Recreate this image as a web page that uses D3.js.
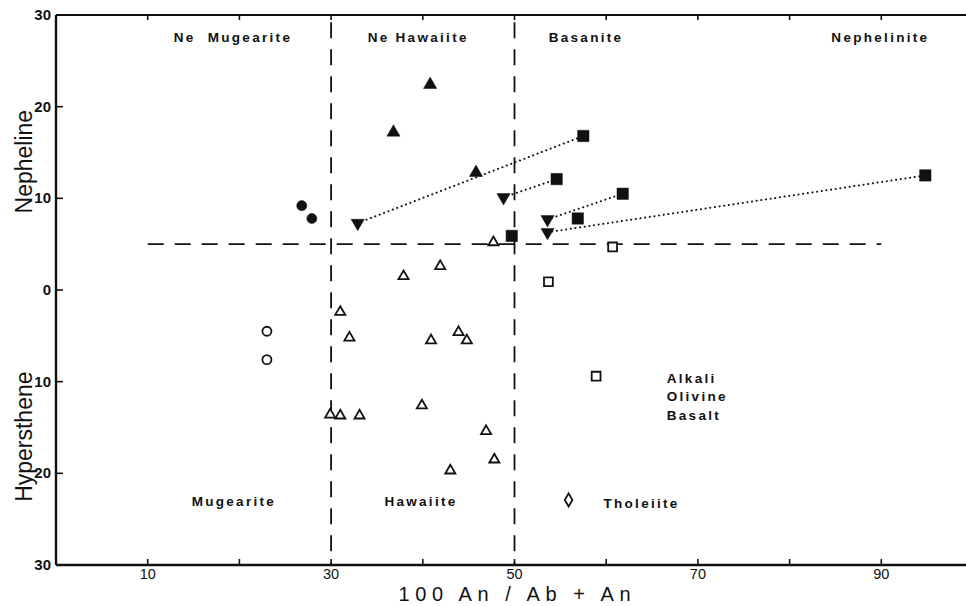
<!DOCTYPE html>
<html>
<head>
<meta charset="utf-8">
<script src="https://cdn.jsdelivr.net/npm/d3@7"></script>
<style>
  body { margin: 0; background: #fff; }
  svg { display: block; font-family: "Liberation Sans", Arial, sans-serif; }
</style>
</head>
<body>
<div id="chart"></div>
<script>
// values: x = 100 An/(Ab+An), y = normative Ne (+) or Hy (-)
const filledCircles = [[26.8, 9.2], [27.9, 7.8]]
const filledUpTriangles = [[40.8, 22.4], [36.8, 17.2], [45.8, 12.8]]
const filledDownTriangles = [[32.9, 7.3], [48.8, 10.1], [53.6, 7.7], [53.6, 6.3]]
const filledSquares = [[57.5, 16.8], [54.6, 12.1], [61.8, 10.5], [56.9, 7.8], [94.8, 12.5], [49.7, 5.9]]
const openTriangles = [
  [47.7, 5.2], [41.9, 2.6], [37.9, 1.5], [31.0, -2.4], [32.0, -5.2], [40.9, -5.5],
  [43.9, -4.6], [44.8, -5.5], [39.9, -12.6], [29.9, -13.6], [31.0, -13.7], [33.1, -13.7],
  [46.9, -15.4], [47.8, -18.5], [43.0, -19.7]
]
const openCircles = [[23.0, -4.5], [23.0, -7.6]]
const openSquares = [[53.7, 0.9], [60.7, 4.7], [58.9, -9.4]]
const openDiamonds = [[55.9, -22.9]]
// dotted tie lines: down triangle -> square
const tieLines = [
  [[32.9, 7.3], [57.5, 16.8]],
  [[48.8, 10.1], [54.6, 12.1]],
  [[53.6, 7.7], [61.8, 10.5]],
  [[53.6, 6.3], [94.8, 12.5]]
]
const xTicks = [10, 20, 30, 40, 50, 60, 70, 80, 90]
const xTickLabels = [10, 30, 50, 70, 90]
const yTicks = [-30, -20, -10, 0, 10, 20, 30]
const regionLabels = [
  { text: "Ne  Mugearite", x: 19.3, y: 27.6 },
  { text: "Ne Hawaiite", x: 39.5, y: 27.6 },
  { text: "Basanite", x: 57.8, y: 27.6 },
  { text: "Nephelinite", x: 89.9, y: 27.6 },
  { text: "Mugearite", x: 19.4, y: -23.0 },
  { text: "Hawaiite", x: 39.8, y: -23.0 }
]
const sideLabels = [
  { text: "Tholeiite", x: 59.7, y: -23.2 },
  { text: "Alkali", x: 66.6, y: -9.6 },
  { text: "Olivine", x: 66.6, y: -11.6 },
  { text: "Basalt", x: 66.6, y: -13.6 }
]

const WIDTH = 966, HEIGHT = 606
const svg = d3.select("#chart").append("svg")
  .attr("width", WIDTH)
  .attr("height", HEIGHT)

const x = d3.scaleLinear().domain([0, 100]).range([56, 973])
const y = d3.scaleLinear().domain([-30, 30]).range([565, 15])

// dashed field boundaries
const dash = "16,11"
svg.selectAll(".vdash")
  .data([30, 50])
  .enter().append("line")
    .attr("x1", d => x(d)).attr("x2", d => x(d))
    .attr("y1", y(29.2)).attr("y2", y(-30))
    .attr("stroke", "#111").attr("stroke-width", 1.8)
    .attr("stroke-dasharray", dash)

svg.append("line")
  .attr("x1", x(10)).attr("x2", x(90))
  .attr("y1", y(5)).attr("y2", y(5))
  .attr("stroke", "#111").attr("stroke-width", 1.8)
  .attr("stroke-dasharray", dash)

// frame: left, bottom, top
svg.append("line")
  .attr("x1", x(0)).attr("x2", x(0)).attr("y1", y(30)).attr("y2", y(-30))
  .attr("stroke", "#111").attr("stroke-width", 2.4)
svg.append("line")
  .attr("x1", x(0)).attr("x2", WIDTH).attr("y1", y(-30)).attr("y2", y(-30))
  .attr("stroke", "#111").attr("stroke-width", 2.4)
svg.append("line")
  .attr("x1", x(0)).attr("x2", WIDTH).attr("y1", y(30)).attr("y2", y(30))
  .attr("stroke", "#111").attr("stroke-width", 2)

// ticks
svg.selectAll(".xtick-b")
  .data(xTicks)
  .enter().append("line")
    .attr("x1", d => x(d)).attr("x2", d => x(d))
    .attr("y1", y(-30)).attr("y2", y(-30) - 6)
    .attr("stroke", "#111").attr("stroke-width", 1.6)
svg.selectAll(".xtick-t")
  .data(xTicks)
  .enter().append("line")
    .attr("x1", d => x(d)).attr("x2", d => x(d))
    .attr("y1", y(30)).attr("y2", y(30) + 5)
    .attr("stroke", "#111").attr("stroke-width", 1.6)
svg.selectAll(".ytick")
  .data(yTicks)
  .enter().append("line")
    .attr("x1", x(0)).attr("x2", x(0) + 7)
    .attr("y1", d => y(d)).attr("y2", d => y(d))
    .attr("stroke", "#111").attr("stroke-width", 1.6)

svg.selectAll(".xlabel")
  .data(xTickLabels)
  .enter().append("text")
    .attr("x", d => x(d))
    .attr("y", y(-30) + 14)
    .attr("text-anchor", "middle")
    .attr("font-size", "14.5px")
    .attr("fill", "#111")
    .text(d => d)

svg.selectAll(".ylabel")
  .data(yTicks)
  .enter().append("text")
    .attr("x", x(0) - 5)
    .attr("y", d => y(d) + 5)
    .attr("text-anchor", "end")
    .attr("font-size", "15px")
    .attr("font-weight", "bold")
    .attr("fill", "#111")
    .text(d => Math.abs(d))

// axis titles
svg.append("text")
  .attr("x", x(50) - 116)
  .attr("y", 601)
  .attr("font-size", "20px")
  .attr("textLength", 232)
  .attr("lengthAdjust", "spacing")
  .attr("fill", "#111")
  .text("100 An / Ab + An")

svg.append("text")
  .attr("transform", `translate(32, ${y(14)}) rotate(-90)`)
  .attr("text-anchor", "middle")
  .attr("font-size", "23px")
  .attr("fill", "#111")
  .text("Nepheline")

svg.append("text")
  .attr("transform", `translate(32, ${y(-16)}) rotate(-90)`)
  .attr("text-anchor", "middle")
  .attr("font-size", "23px")
  .attr("fill", "#111")
  .text("Hypersthene")

// rock field names
svg.selectAll(".region")
  .data(regionLabels)
  .enter().append("text")
    .attr("x", d => x(d.x))
    .attr("y", d => y(d.y) + 5)
    .attr("text-anchor", "middle")
    .attr("font-size", "13.5px")
    .attr("font-weight", "bold")
    .attr("letter-spacing", "2.3px")
    .attr("fill", "#111")
    .style("white-space", "pre")
    .text(d => d.text)

svg.selectAll(".side")
  .data(sideLabels)
  .enter().append("text")
    .attr("x", d => x(d.x))
    .attr("y", d => y(d.y) + 5)
    .attr("text-anchor", "start")
    .attr("font-size", "13.5px")
    .attr("font-weight", "bold")
    .attr("letter-spacing", "2.3px")
    .attr("fill", "#111")
    .text(d => d.text)

// tie lines
svg.selectAll(".tie")
  .data(tieLines)
  .enter().append("line")
    .attr("x1", d => x(d[0][0])).attr("y1", d => y(d[0][1]))
    .attr("x2", d => x(d[1][0])).attr("y2", d => y(d[1][1]))
    .attr("stroke", "#111").attr("stroke-width", 2)
    .attr("stroke-linecap", "round")
    .attr("stroke-dasharray", "0.1,4.6")

// markers
function drawSymbols(data, type, size, filled, rotate) {
  svg.append("g").selectAll("path")
    .data(data)
    .enter().append("path")
      .attr("d", d3.symbol().type(type).size(size))
      .attr("transform", d => `translate(${x(d[0])}, ${y(d[1])})` + (rotate ? ` rotate(${rotate})` : ""))
      .attr("fill", filled ? "#111" : "#fff")
      .attr("stroke", "#111")
      .attr("stroke-width", filled ? 0.5 : 1.8)
}

drawSymbols(openTriangles, d3.symbolTriangle, 44, false)
drawSymbols(openCircles, d3.symbolCircle, 64, false)
drawSymbols(openSquares, d3.symbolSquare, 78, false)
drawSymbols(openDiamonds, d3.symbolDiamond, 50, false)
drawSymbols(filledCircles, d3.symbolCircle, 80, true)
drawSymbols(filledUpTriangles, d3.symbolTriangle, 75, true)
drawSymbols(filledDownTriangles, d3.symbolTriangle, 75, true, 180)
drawSymbols(filledSquares, d3.symbolSquare, 130, true)
</script>
</body>
</html>
